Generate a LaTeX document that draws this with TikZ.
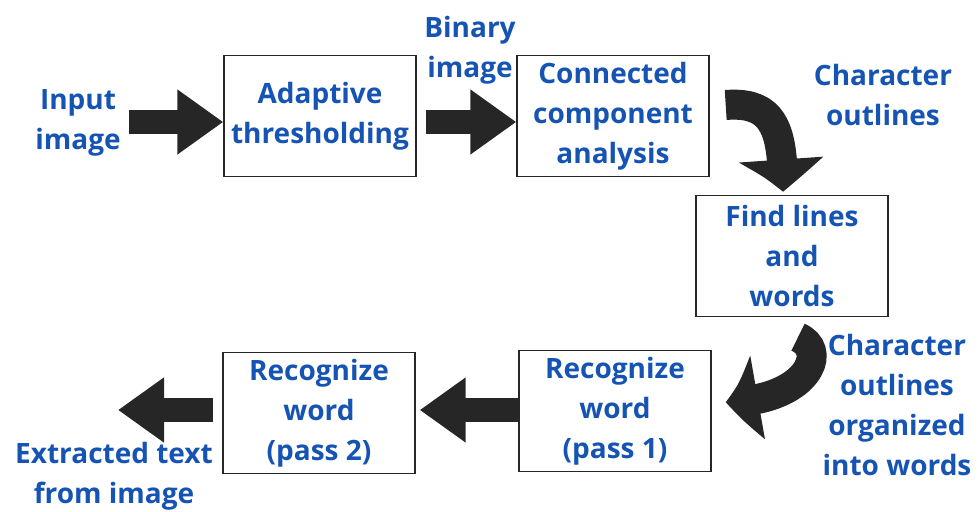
\documentclass[tikz,border=0pt]{standalone}
\usepackage{fontspec}
\setmainfont{Open Sans}
\usetikzlibrary{arrows.meta,bending}
\definecolor{ocrblue}{RGB}{22,84,180}
\definecolor{inkgray}{RGB}{38,38,38}
\newcommand{\lblfont}{\bfseries\fontsize{28}{40}\selectfont}
\tikzset{>=latex}
\tikzset{
  procbox/.style={draw=black!85, line width=1.4pt, minimum width=192pt, minimum height=121pt,
    inner sep=0pt, align=center, font=\lblfont, text=ocrblue},
  lbl/.style={inner sep=0pt, align=center, font=\lblfont, text=ocrblue},
  fatarrow/.style={line width=24pt, draw=inkgray, -{Triangle[width=62pt,length=46pt]}},
  curvarrow/.style={line width=30pt, draw=inkgray, -{Triangle[width=80pt,length=34pt,bend]}}
}

\begin{document}
\begin{tikzpicture}[x=1pt, y=-1pt]
\useasboundingbox (0,0) rectangle (979,511);
% boxes
\node[procbox] (adapt) at (320,116) {Adaptive\\thresholding};
\node[procbox] (conn) at (613,116) {Connected\\component\\analysis};
\node[procbox] (find) at (792,256) {Find lines\\and\\words};
\node[procbox] (recog1) at (615,411) {Recognize\\word\\(pass 1)};
\node[procbox] (recog2) at (319,413) {Recognize\\word\\(pass 2)};
% labels
\node[lbl] (inimg) at (78,123) {Input\\image};
\node[lbl] (binimg) at (470,50) {Binary\\image};
\node[lbl] (charout) at (883,95) {Character\\outlines};
\node[lbl] (charwords) at (897,405) {Character\\outlines\\organized\\into words};
\node[lbl] (extracted) at (114,476) {Extracted text\\from image};
\coordinate (outtip) at (118,410);
% arrows
\draw[fatarrow, shorten <=8pt] (inimg.east |- 0,122) -- (adapt.west |- 0,122);
\draw[fatarrow, shorten <=9pt] (adapt.east |- 0,122) -- (conn.west |- 0,122);
\draw[curvarrow] ([xshift=16pt,yshift=11pt]conn.east) .. controls +(50,-4) and +(0,-60) .. ([xshift=-9pt,yshift=3pt]find.north);
\draw[curvarrow] ([xshift=6pt,yshift=-20pt]find.south) .. controls +(32,14) and +(80,0) .. ([xshift=14pt,yshift=9pt]recog1.east);
\draw[fatarrow, shorten >=4pt] (recog1.west |- 0,410) -- (recog2.east |- 0,410);
\draw[fatarrow, shorten <=9pt] (recog2.west |- 0,410) -- (outtip);
\end{tikzpicture}
\end{document}
